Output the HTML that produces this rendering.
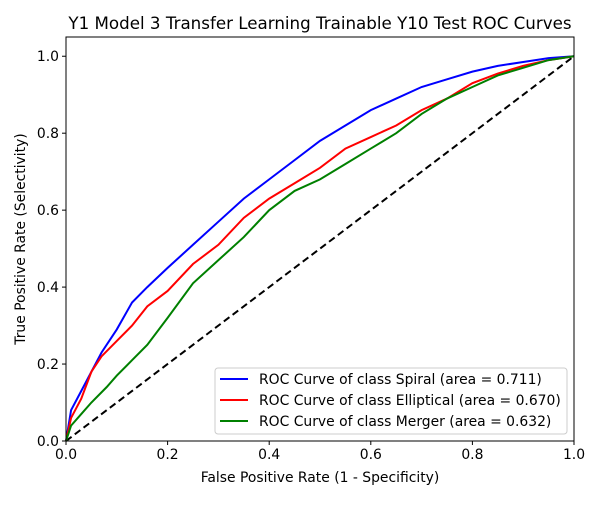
<!DOCTYPE html>
<html><head><meta charset="utf-8"><style>
body{margin:0;background:#fff}
svg{font-family:"DejaVu Sans","Liberation Sans",sans-serif}
</style></head><body>
<svg id="chart" width="600" height="500">
<rect width="600" height="500" fill="#fff"/>
<text x="320" y="29" text-anchor="middle" font-size="16.7">Y1 Model 3 Transfer Learning Trainable Y10 Test ROC Curves</text>
<g id="plot"></g>
<text x="320" y="482" text-anchor="middle" font-size="13.9">False Positive Rate (1 - Specificity)</text>
<text transform="translate(25,239) rotate(-90)" text-anchor="middle" font-size="13.9">True Positive Rate (Selectivity)</text>
</svg>
<script>
const fpr = [0,0.01,0.03,0.05,0.07,0.1,0.13,0.16,0.2,0.25,0.3,0.35,0.4,0.45,0.5,0.55,0.6,0.65,0.7,0.75,0.8,0.85,0.9,0.95,1];
const spiralTpr = [0,0.08,0.13,0.18,0.23,0.29,0.36,0.40,0.45,0.51,0.57,0.63,0.68,0.73,0.78,0.82,0.86,0.89,0.92,0.94,0.96,0.975,0.985,0.995,1];
const ellipticalTpr = [0,0.06,0.11,0.18,0.22,0.26,0.30,0.35,0.39,0.46,0.51,0.58,0.63,0.67,0.71,0.76,0.79,0.82,0.86,0.89,0.93,0.955,0.975,0.99,1];
const mergerFpr = [0,0.01,0.03,0.05,0.08,0.1,0.13,0.16,0.2,0.25,0.3,0.35,0.4,0.45,0.5,0.55,0.6,0.65,0.7,0.75,0.8,0.85,0.9,0.95,1];
const mergerTpr = [0,0.04,0.07,0.10,0.14,0.17,0.21,0.25,0.32,0.41,0.47,0.53,0.60,0.65,0.68,0.72,0.76,0.80,0.85,0.89,0.92,0.95,0.97,0.99,1];
const ticks = [0,0.2,0.4,0.6,0.8,1.0];
const tickLabels = ["0.0","0.2","0.4","0.6","0.8","1.0"];
const legendLabels = ["ROC Curve of class Spiral (area = 0.711)","ROC Curve of class Elliptical (area = 0.670)","ROC Curve of class Merger (area = 0.632)"];

const NS="http://www.w3.org/2000/svg";
const X0=66,X1=574,Y0=441,YT=37;
const sx=v=>X0+v*(X1-X0);
const sy=v=>Y0-v*(Y0-YT)/1.05;
const g=document.getElementById('plot');
function mk(t,a){const e=document.createElementNS(NS,t);for(const k in a)e.setAttribute(k,a[k]);return e;}
function line(xs,ys,color,dash,name){
  const p=mk('polyline',{points:xs.map((x,i)=>sx(x)+','+sy(ys[i])).join(' '),fill:'none',stroke:color,'stroke-width':2,'stroke-dasharray':dash||'none'});
  
  
  g.appendChild(p);
}
line([0,1],[0,1],'#000','7,4','diagonal-chance-line');
line(fpr,spiralTpr,'#0000ff',null,'spiral-roc-curve');
line(fpr,ellipticalTpr,'#ff0000',null,'elliptical-roc-curve');
line(mergerFpr,mergerTpr,'#008000',null,'merger-roc-curve');
const frame=mk('rect',{x:X0,y:YT,width:X1-X0,height:Y0-YT,fill:'none',stroke:'#000','stroke-width':1});


g.appendChild(frame);
ticks.forEach((t,i)=>{
  g.appendChild(mk('line',{x1:sx(t),x2:sx(t),y1:Y0,y2:Y0+4,stroke:'#000'}));
  const tx=mk('text',{x:sx(t),y:Y0+18,'text-anchor':'middle','font-size':13.9});tx.textContent=tickLabels[i];
  
  
  g.appendChild(tx);
  g.appendChild(mk('line',{x1:X0-4,x2:X0,y1:sy(t),y2:sy(t),stroke:'#000'}));
  const ty=mk('text',{x:X0-7,y:sy(t)+5,'text-anchor':'end','font-size':13.9});ty.textContent=tickLabels[i];
  
  
  g.appendChild(ty);
});
const lg=mk('g',{});


lg.appendChild(mk('rect',{x:215,y:368,width:352,height:66,rx:3,fill:'#fff','fill-opacity':0.8,stroke:'#ccc'}));
const cols=['#0000ff','#ff0000','#008000'];
legendLabels.forEach((l,i)=>{
  const y=379+i*21;
  lg.appendChild(mk('line',{x1:220,x2:248,y1:y,y2:y,stroke:cols[i],'stroke-width':2}));
  const t=mk('text',{x:259,y:y+5,'font-size':13.9});t.textContent=l;
  
  
  lg.appendChild(t);
});
g.appendChild(lg);
</script>
</body></html>
